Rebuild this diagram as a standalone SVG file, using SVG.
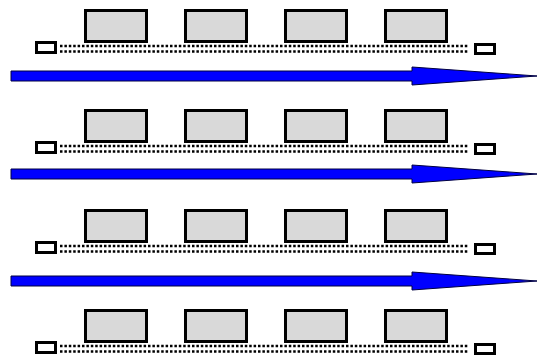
<svg xmlns="http://www.w3.org/2000/svg" width="537" height="358" viewBox="0 0 537 358">
<style>
.blk{fill:#d9d9d9;stroke:#000;stroke-width:3}
.sm{fill:#fff;stroke:#000;stroke-width:3}
.dot{stroke:#000;stroke-width:2.5;stroke-dasharray:2.5 1.9;fill:none}
.arr{fill:#0000ff;stroke:#000040;stroke-width:1}
</style>
<defs>
<g id="row">
<line class="dot" x1="60" y1="46" x2="468" y2="46"/>
<line class="dot" x1="60" y1="51.5" x2="468" y2="51.5"/>
<rect class="blk" x="85.5" y="10.5" width="61" height="31"/>
<rect class="blk" x="185.5" y="10.5" width="61" height="31"/>
<rect class="blk" x="285.5" y="10.5" width="61" height="31"/>
<rect class="blk" x="385.5" y="10.5" width="61" height="31"/>
<rect class="sm" x="36.5" y="42.5" width="19" height="10"/>
<rect class="sm" x="475.5" y="44.5" width="19" height="9"/>
</g>
<polygon id="arrow" class="arr" points="11,-5 412,-5 412,-9 537,0 412,9 412,5 11,5"/>
</defs>
<g id="row1"><use href="#row"/></g>
<g id="row2"><use href="#row" transform="translate(0,100)"/></g>
<g id="row3"><use href="#row" transform="translate(0,200)"/></g>
<g id="row4"><use href="#row" transform="translate(0,300)"/></g>
<g id="connectors">
<use href="#arrow" transform="translate(0,76)"/>
<use href="#arrow" transform="translate(0,174)"/>
<use href="#arrow" transform="translate(0,281)"/>
</g>
</svg>
